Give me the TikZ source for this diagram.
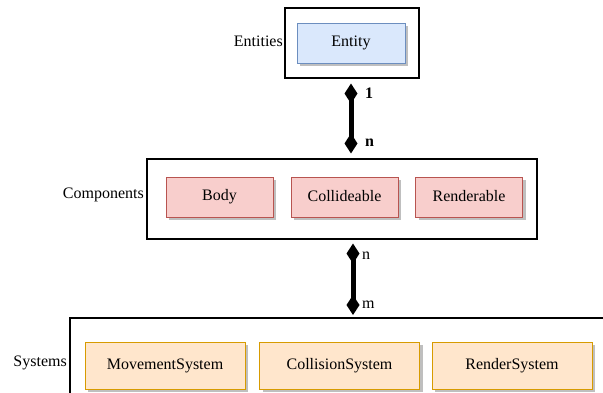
\documentclass[tikz,border=0pt]{standalone}
\usepackage{fontspec}
\setmainfont{Liberation Serif}
\usetikzlibrary{arrows.meta,shadows}
\definecolor{EntityFill}{HTML}{DAE8FC}
\definecolor{EntityLine}{HTML}{6C8EBF}
\definecolor{CompFill}{HTML}{F8CECC}
\definecolor{CompLine}{HTML}{B85450}
\definecolor{SysFill}{HTML}{FFE6CC}
\definecolor{SysLine}{HTML}{D79B00}

\begin{document}
\begin{tikzpicture}[x=1pt, y=-1pt,
  every node/.style={font=\fontsize{16}{19}\selectfont, inner sep=0pt},
  groupbox/.style={draw=black, line width=1.1pt},
  shadowed/.style={drop shadow={shadow xshift=3pt, shadow yshift=-3pt, fill=black!25, opacity=1}},
  entitybox/.style={draw=EntityLine, fill=EntityFill, line width=0.8pt, shadowed,
    minimum width=108pt, minimum height=40pt},
  compbox/.style={draw=CompLine, fill=CompFill, line width=0.8pt, shadowed,
    minimum width=107pt, minimum height=40pt},
  sysbox/.style={draw=SysLine, fill=SysFill, line width=0.8pt, shadowed,
    minimum width=160pt, minimum height=47pt},
  link/.style={line width=5pt, {Diamond[length=20pt,width=13pt]}-{Diamond[length=20pt,width=13pt]}}]
  \clip (0,0) rectangle (603,393);

  % groups
  \node[groupbox, minimum width=134pt, minimum height=70pt] (entities) at (352,43) {};
  \node[groupbox, minimum width=390pt, minimum height=80pt] (components) at (342,199) {};
  \draw[groupbox] (620,318) -- (70,318) -- (70,410);
  \coordinate (systop) at (353,318);

  \node[anchor=east] (entlabel) at (283,41) {Entities};
  \node[anchor=east] (complabel) at (144,195) {Components};
  \node[anchor=east] (syslabel) at (67,363) {Systems};

  % members
  \node[entitybox] (entity) at (351,43) {\raisebox{2pt}{Entity}};

  \node[compbox] (body) at (219.5,197) {\raisebox{2pt}{Body}};
  \node[compbox] (collideable) at (344.5,197) {\raisebox{2pt}{Collideable}};
  \node[compbox] (renderable) at (469,197) {\raisebox{2pt}{Renderable}};

  \node[sysbox] (movement) at (165,365.5) {\raisebox{2pt}{MovementSystem}};
  \node[sysbox] (collision) at (339.5,365.5) {\raisebox{2pt}{CollisionSystem}};
  \node[sysbox] (render) at (512,365.5) {\raisebox{2pt}{RenderSystem}};

  % relations
  \draw[link, shorten <=5pt, shorten >=5pt] (entities.south -| entity) -- (components.north -| entity);
  \draw[link, shorten <=4pt, shorten >=3pt] (components.south -| systop) -- (systop);

  \node[anchor=west, font=\fontsize{16}{19}\selectfont\bfseries] (one) at (365,93) {1};
  \node[anchor=west, font=\fontsize{16}{19}\selectfont\bfseries] (manyc) at (365,143) {n};
  \node[anchor=west] (manyn) at (362,256) {n};
  \node[anchor=west] (manym) at (362,305) {m};
\end{tikzpicture}
\end{document}
